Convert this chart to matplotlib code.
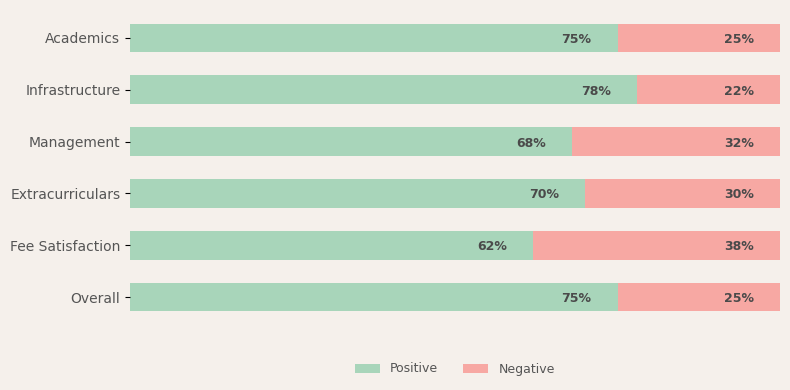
import numpy as np
import matplotlib.pyplot as plt

categories = ['Academics', 'Infrastructure', 'Management', 'Extracurriculars', 'Fee Satisfaction', 'Overall']
positive = [75, 78, 68, 70, 62, 75]
negative = [25, 22, 32, 30, 38, 25]

bg = '#f5f0eb'
green = '#a8d5ba'
pink = '#f7a8a3'
text_col = '#4a4a4a'

fig = plt.figure(figsize=(7.9, 3.9), dpi=100, facecolor=bg)
ax = fig.add_axes([130/790, 67/390, 650/790, 311/390], facecolor=bg)

y = np.arange(len(categories))
ax.barh(y, positive, height=0.55, color=green, label='Positive')
ax.barh(y, negative, left=positive, height=0.55, color=pink, label='Negative')

for i in range(len(categories)):
    ax.text(positive[i] - 4, y[i], f'{positive[i]}%', ha='right', va='center_baseline',
            fontsize=9, fontweight='bold', color=text_col)
    ax.text(positive[i] + negative[i] - 4, y[i], f'{negative[i]}%', ha='right', va='center_baseline',
            fontsize=9, fontweight='bold', color=text_col)

ax.set_xlim(0, 100)
ax.set_ylim(5.5, -0.5)
ax.set_yticks(y)
ax.set_yticklabels(categories, fontsize=10, color='#555555', va='center_baseline')
ax.set_xticks([])
for s in ax.spines.values():
    s.set_visible(False)

fig.legend(loc='center', bbox_to_anchor=(455/790, 1 - 369/390), ncol=2, frameon=False,
           fontsize=9, labelcolor='#555555', columnspacing=2.0)

fig.savefig('out.png', dpi=100, facecolor=bg)
